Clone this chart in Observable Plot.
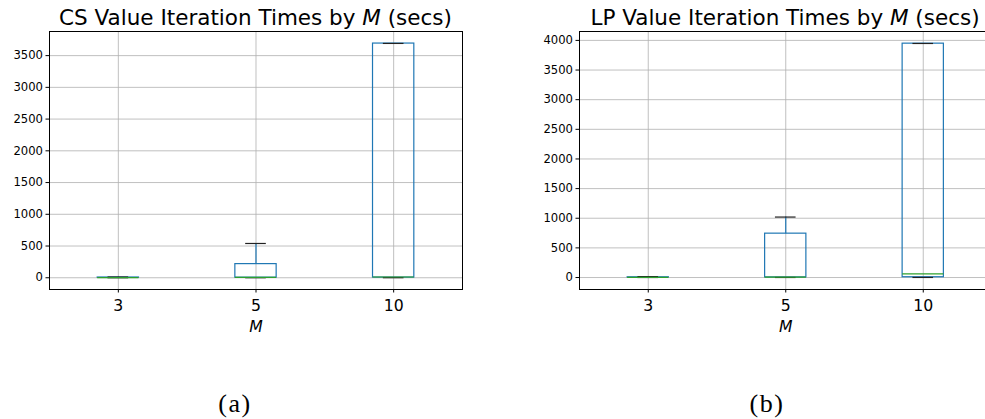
<!DOCTYPE html>
<html>
<head>
<meta charset="utf-8">
<script src="https://cdn.jsdelivr.net/npm/d3@7"></script>
<script src="https://cdn.jsdelivr.net/npm/@observablehq/plot@0.6"></script>
<style>
  html, body { margin: 0; padding: 0; background: #fff; }
  body { width: 985px; height: 419px; overflow: hidden; position: relative; font-family: "DejaVu Sans", sans-serif; }
  .panel { position: absolute; top: 0; }
  .panel svg { max-width: none !important; }
  .title { position: absolute; top: 7px; font-size: 21.5px; line-height: 21.5px; text-align: center; color: #000; white-space: nowrap; }
  .caption { position: absolute; top: 391px; width: 100px; font-family: "Liberation Serif", serif; font-size: 26px; line-height: 26px; letter-spacing: 1.5px; text-align: center; color: #000; }
</style>
</head>
<body>
<div id="left" class="panel" style="left:0px; width:475px"></div>
<div id="right" class="panel" style="left:500px; width:492px"></div>
<div class="title" style="left:0px; width:511px">CS Value Iteration Times by <i>M</i> (secs)</div>
<div class="title" style="left:485px; width:600px">LP Value Iteration Times by <i>M</i> (secs)</div>
<div class="caption" style="left:185px">(a)</div>
<div class="caption" style="left:717px">(b)</div>
<script>
// Number of modes M (box positions 1, 2, 3 on the x axis)
const mLabels = ["3", "5", "10"];

// CS value iteration times (seconds): five-number summaries per M
const csLow = [0.4, 0.6, 1];
const csQ1 = [0.6, 1.5, 3];
const csMedian = [1.5, 5, 12];
const csQ3 = [4, 215, 3690];
const csHigh = [12, 540, 3692];
const csTicks = [0, 500, 1000, 1500, 2000, 2500, 3000, 3500];

// LP value iteration times (seconds)
const lpLow = [0.4, 0.6, 1];
const lpQ1 = [0.6, 2, 5];
const lpMedian = [1.5, 6, 62];
const lpQ3 = [4, 740, 3945];
const lpHigh = [15, 1020, 3948];
const lpTicks = [0, 500, 1000, 1500, 2000, 2500, 3000, 3500, 4000];

const BLUE = "#1f77b4", GREEN = "#2ca02c", GRID = "#b0b0b0";
const HALF_BOX = 0.15, HALF_CAP = 0.075;

function rowsOf(low, q1, med, q3, high) {
  return mLabels.map((m, i) => ({
    m, pos: i + 1, low: low[i], q1: q1[i], med: med[i], q3: q3[i], high: high[i]
  }));
}

function boxPanel({rows, yDomain, yTicks, width, marginLeft, marginRight}) {
  return Plot.plot({
    width, height: 345,
    marginLeft, marginRight, marginTop: 31, marginBottom: 56,
    x: {type: "linear", domain: [0.5, 3.5]},
    y: {domain: yDomain},
    style: {fontFamily: "DejaVu Sans", background: "white", color: "#000"},
    marks: [
      Plot.gridX([1, 2, 3], {stroke: GRID, strokeOpacity: 0.8, strokeWidth: 1}),
      Plot.gridY(yTicks, {stroke: GRID, strokeOpacity: 0.8, strokeWidth: 1}),
      // boxes (q1..q3), no fill so the grid shows through
      Plot.rect(rows, {x1: d => d.pos - HALF_BOX, x2: d => d.pos + HALF_BOX, y1: "q1", y2: "q3",
                       fill: "none", stroke: BLUE, strokeWidth: 1.2}),
      // whiskers
      Plot.ruleX(rows, {x: "pos", y1: "q3", y2: "high", stroke: BLUE, strokeWidth: 1.2}),
      Plot.ruleX(rows, {x: "pos", y1: "low", y2: "q1", stroke: BLUE, strokeWidth: 1.2}),
      // caps
      Plot.ruleY(rows, {y: "high", x1: d => d.pos - HALF_CAP, x2: d => d.pos + HALF_CAP, stroke: "#222", strokeWidth: 1.2}),
      Plot.ruleY(rows, {y: "low", x1: d => d.pos - HALF_CAP, x2: d => d.pos + HALF_CAP, stroke: "#222", strokeWidth: 1.2}),
      // medians
      Plot.ruleY(rows, {y: "med", x1: d => d.pos - HALF_BOX, x2: d => d.pos + HALF_BOX, stroke: GREEN, strokeWidth: 1.2}),
      Plot.frame({stroke: "#000", strokeWidth: 1}),
      Plot.axisY(yTicks, {tickSize: 3.5, tickPadding: 3, fontSize: 11.6, label: null,
                          tickFormat: v => String(v), stroke: "#000"}),
      Plot.axisX([1, 2, 3], {tickSize: 3.5, tickPadding: 7, fontSize: 15.7, label: null,
                             tickFormat: p => mLabels[p - 1], stroke: "#000"}),
      Plot.text(["M"], {frameAnchor: "bottom", lineAnchor: "middle", dy: 37,
                        fontStyle: "italic", fontSize: 15.7, fill: "#000"})
    ]
  });
}

document.getElementById("left").append(boxPanel({
  rows: rowsOf(csLow, csQ1, csMedian, csQ3, csHigh),
  yDomain: [-185, 3880], yTicks: csTicks,
  width: 475, marginLeft: 49, marginRight: 13
}));

document.getElementById("right").append(boxPanel({
  rows: rowsOf(lpLow, lpQ1, lpMedian, lpQ3, lpHigh),
  yDomain: [-202, 4150], yTicks: lpTicks,
  width: 492, marginLeft: 79, marginRight: 0.5
}));
</script>
</body>
</html>
